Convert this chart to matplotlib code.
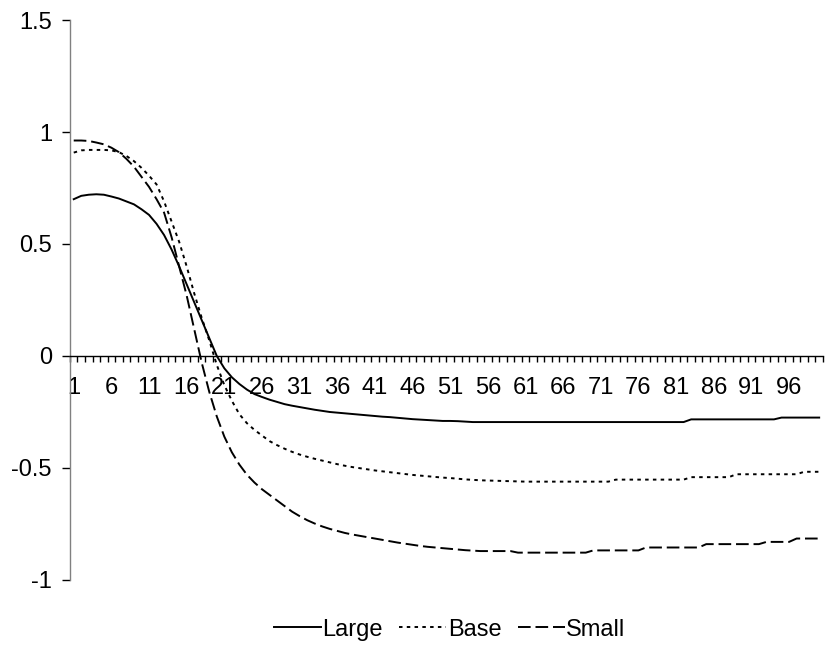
import matplotlib
matplotlib.use("Agg")
import matplotlib.pyplot as plt
from matplotlib.ticker import FixedLocator, NullFormatter

# ----------------------------
# Data
# ----------------------------

periods = list(range(1, 101))

large = [
    0.700, 0.715, 0.720, 0.722, 0.720, 0.712, 0.703, 0.690, 0.677, 0.655,
    0.630, 0.590, 0.540, 0.475, 0.400, 0.320, 0.240, 0.160, 0.080, 0.000,
    -0.055, -0.095, -0.125, -0.150, -0.170, -0.183, -0.195, -0.205, -0.215, -0.222,
    -0.228, -0.234, -0.240, -0.245, -0.250, -0.253, -0.256, -0.259, -0.262, -0.265,
    -0.268, -0.271, -0.273, -0.276, -0.279, -0.282, -0.284, -0.286, -0.288, -0.290,
    -0.290, -0.291, -0.293, -0.295, -0.295, -0.295, -0.295, -0.295, -0.295, -0.295,
    -0.295, -0.295, -0.295, -0.295, -0.295, -0.295, -0.295, -0.295, -0.295, -0.295,
    -0.295, -0.295, -0.295, -0.295, -0.295, -0.295, -0.295, -0.295, -0.295, -0.295,
    -0.295, -0.295, -0.283, -0.283, -0.283, -0.283, -0.283, -0.283, -0.283, -0.283,
    -0.283, -0.283, -0.283, -0.283, -0.275, -0.275, -0.275, -0.275, -0.275, -0.275,
]

base = [
    0.908, 0.918, 0.920, 0.920, 0.920, 0.918, 0.910, 0.893, 0.870, 0.840,
    0.805, 0.766, 0.690, 0.600, 0.510, 0.400, 0.280, 0.170, 0.070, -0.040,
    -0.130, -0.200, -0.260, -0.300, -0.330, -0.355, -0.380, -0.398, -0.414, -0.428,
    -0.440, -0.450, -0.459, -0.467, -0.475, -0.483, -0.490, -0.496, -0.501, -0.506,
    -0.511, -0.515, -0.519, -0.523, -0.527, -0.531, -0.534, -0.537, -0.540, -0.543,
    -0.545, -0.548, -0.551, -0.553, -0.555, -0.556, -0.557, -0.558, -0.559, -0.560,
    -0.561, -0.561, -0.561, -0.561, -0.561, -0.561, -0.561, -0.561, -0.561, -0.561,
    -0.561, -0.561, -0.552, -0.552, -0.552, -0.552, -0.552, -0.552, -0.552, -0.552,
    -0.552, -0.552, -0.541, -0.541, -0.541, -0.541, -0.541, -0.541, -0.528, -0.528,
    -0.528, -0.528, -0.528, -0.528, -0.528, -0.528, -0.528, -0.517, -0.517, -0.517,
]

small = [
    0.962, 0.962, 0.960, 0.953, 0.945, 0.930, 0.910, 0.880, 0.845, 0.800,
    0.755, 0.700, 0.640, 0.530, 0.400, 0.270, 0.120, -0.030, -0.160, -0.270,
    -0.360, -0.430, -0.485, -0.530, -0.565, -0.595, -0.620, -0.645, -0.670, -0.695,
    -0.715, -0.733, -0.748, -0.761, -0.772, -0.781, -0.790, -0.797, -0.803, -0.809,
    -0.815, -0.821, -0.827, -0.833, -0.838, -0.843, -0.848, -0.852, -0.855, -0.858,
    -0.861, -0.864, -0.867, -0.869, -0.871, -0.871, -0.871, -0.871, -0.871, -0.878,
    -0.878, -0.878, -0.878, -0.878, -0.878, -0.878, -0.878, -0.878, -0.878, -0.868,
    -0.868, -0.868, -0.868, -0.868, -0.868, -0.868, -0.855, -0.855, -0.855, -0.855,
    -0.855, -0.855, -0.855, -0.855, -0.840, -0.840, -0.840, -0.840, -0.840, -0.840,
    -0.840, -0.840, -0.830, -0.830, -0.830, -0.830, -0.815, -0.815, -0.815, -0.815,
]

x_labels = [str(p) for p in range(1, 100, 5)]
y_ticks = [-1, -0.5, 0, 0.5, 1, 1.5]
y_labels = ["-1", "-0.5", "0", "0.5", "1", "1.5"]

# ----------------------------
# Plot
# ----------------------------

plt.rcParams["font.family"] = ["Liberation Sans", "DejaVu Sans"]
FS = 17

fig = plt.figure(figsize=(8.25, 6.56), dpi=100)
ax = fig.add_axes([0.0848, 0.1159, 0.9127, 0.8536])

ax.plot(periods, large, color="black", lw=1.4, linestyle="-", label="Large")
ax.plot(periods, base, color="black", lw=1.4, linestyle=(0, (1.8, 2.2)), label="Base")
ax.plot(periods, small, color="black", lw=1.4, linestyle=(0, (6.5, 2.5)), label="Small")

ax.set_xlim(0.5, 100.5)
ax.set_ylim(-1, 1.5)

for side in ("top", "right"):
    ax.spines[side].set_visible(False)
ax.spines["left"].set_color("#808080")
ax.spines["left"].set_linewidth(1.0)
ax.spines["bottom"].set_position(("data", 0))
ax.spines["bottom"].set_color("black")
ax.spines["bottom"].set_linewidth(1.0)

# y axis
ax.set_yticks(y_ticks)
ax.set_yticklabels(y_labels)
ax.tick_params(axis="y", direction="out", length=6, width=1, pad=7,
               labelsize=FS, color="black")

# x axis: labels at category centres, tick marks between categories
ax.xaxis.set_major_locator(FixedLocator(list(range(1, 100, 5))))
ax.set_xticklabels(x_labels)
ax.xaxis.set_minor_locator(FixedLocator([k + 0.5 for k in range(0, 101)]))
ax.xaxis.set_minor_formatter(NullFormatter())
ax.tick_params(axis="x", which="major", length=0, pad=15, labelsize=FS)
ax.tick_params(axis="x", which="minor", direction="out", length=4, width=1,
               color="black")

handles, labels = ax.get_legend_handles_labels()
fig.legend(handles, labels, loc="center", bbox_to_anchor=(0.545, 0.04), ncol=3,
           frameon=False, fontsize=FS, handlelength=2.0, handletextpad=0.05,
           columnspacing=0.7)

fig.savefig("out.png", dpi=100)
